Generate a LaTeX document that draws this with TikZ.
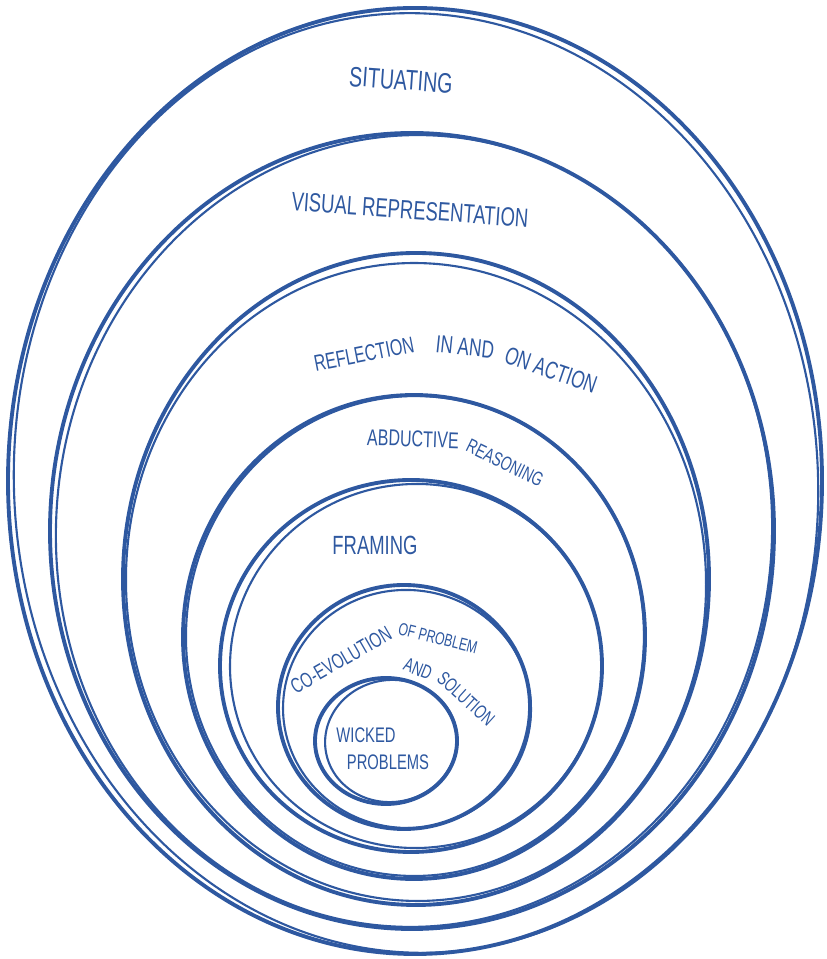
\documentclass[tikz,border=0pt]{standalone}
\usepackage{fontspec}
\newfontfamily\hand[FakeStretch=0.7]{Liberation Sans}
\definecolor{ink}{RGB}{46,88,160}
\tikzset{
  pen/.style={draw=ink, line width=1.1pt},
  pen2/.style={draw=ink, line width=.6pt},
  lbl/.style={text=ink, inner sep=0pt, font=\hand\fontsize{#1}{#1}\selectfont}
}
\begin{document}
\begin{tikzpicture}
\useasboundingbox (0,0) rectangle (8.26,9.59);
\foreach \cx/\cy/\rx/\ry/\ox/\oy/\orx/\ory/\rot in {
    4.15/4.78/4.07/4.73/.01/-.02/-.05/-.03/3,
    4.12/4.28/3.62/3.98/.02/0/-.04/-.02/-3,
    4.16/3.80/2.93/3.26/0/-.03/-.03/-.07/2,
    4.14/3.22/2.31/2.42/.01/.01/-.02/-.02/-2,
    4.11/2.93/1.91/1.86/.05/0/-.05/-.04/4,
    4.04/2.52/1.26/1.22/.03/-.02/-.02/-.03/-5,
    3.86/2.18/0.71/0.63/.05/0/-.05/-.02/8}
{
    \draw[pen](\cx,\cy) ellipse [x radius=\rx, y radius=\ry];
    \draw[pen2, rotate around={\rot:(\cx+\ox,\cy+\oy)}](\cx+\ox,\cy+\oy) ellipse [x radius=\rx+\orx, y radius=\ry+\ory];
}
\node (sit) at (4.01,8.79)[lbl=8, rotate=-4]{SITUATING};
\node (vis) at (4.10,7.49)[lbl=7.5, rotate=-4]{VISUAL REPRESENTATION};
\node (refa) at (3.64,6.05)[lbl=6.5, rotate=11]{REFLECTION};
\node (refb) at (4.65,6.12)[lbl=7, rotate=-6]{IN AND};
\node (refc) at (5.51,5.89)[lbl=7, rotate=-19]{ON ACTION};
\node (abda) at (4.13,5.20)[lbl=6.5, rotate=-2]{ABDUCTIVE};
\node (abdb) at (5.05,4.96)[lbl=5.6, rotate=-26]{REASONING};
\node (fra) at (3.75,4.14)[lbl=7.5]{FRAMING};
\node (coa) at (3.41,2.99)[lbl=6, rotate=30]{CO-EVOLUTION};
\node (cob) at (4.38,3.21)[lbl=5, rotate=-14]{OF PROBLEM};
\node (coc) at (4.18,2.90)[lbl=5.5, rotate=-22]{AND};
\node (cod) at (4.66,2.60)[lbl=5.5, rotate=-42]{SOLUTION};
\node (wica) at (3.66,2.24)[lbl=6]{WICKED};
\node (wicb) at (3.88,1.97)[lbl=6]{PROBLEMS};
\end{tikzpicture}
\end{document}
